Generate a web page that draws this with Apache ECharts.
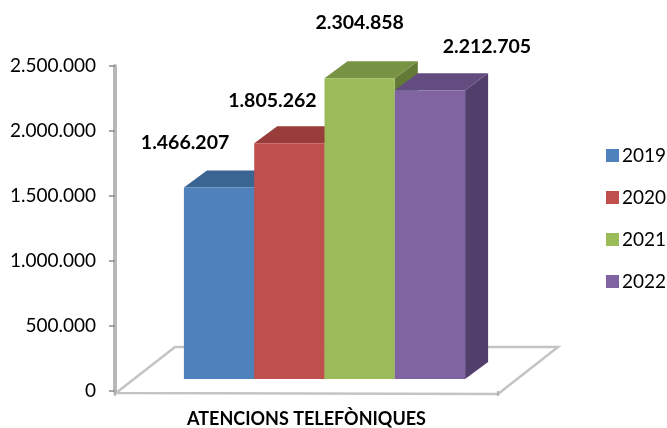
<!DOCTYPE html>
<html>
<head>
<meta charset="utf-8">
<style>html,body{margin:0;padding:0;background:#fff}#container{width:667px;height:428px}</style>
<script src="https://cdn.jsdelivr.net/npm/echarts@6/dist/echarts.min.js"></script>
</head>
<body>
<div id="container"></div>
<script>
"use strict";

const categories = ["ATENCIONS TELEFÒNIQUES"];
const years = ["2019", "2020", "2021", "2022"];
const values = [1466207, 1805262, 2304858, 2212705];
const yTicks = [0, 500000, 1000000, 1500000, 2000000, 2500000];

// colores: frontal, superior, lateral
const frontColors = ['#4f81bd', '#c0504d', '#9bbb59', '#8064a2'];
const topColors = ['#3a6593', '#983d3a', '#789343', '#624c80'];
const sideColors = ['#2f5380', '#7d3230', '#637a37', '#523e6b'];

// etiquetas colocadas a mano en el original (desplazamiento respecto a la cara frontal)
const labelDx = [-34, -17, 0, 57];
const labelDy = [-45, -43, -56, -44];

const barWidth = 70.3;
const depthX = 23;
const depthY = -17;
const shiftX = 18; // las barras van hacia el fondo del suelo
const shiftY = -13;

function dots(n) {
  return String(n).replace(/\B(?=(\d{3})+(?!\d))/g, '.');
}

function renderFloor(params) {
  const c = params.coordSys;
  const l = c.x, r = c.x + c.width, b = c.y + c.height;
  return {
    type: 'polygon',
    shape: { points: [[l + 1, b + 2], [r, b + 3], [r + 60, b - 44], [l + 60, b - 44]] },
    style: { fill: '#fff', stroke: '#c4c4c4', lineWidth: 2.5 },
  };
}

function makeRender(i) {
  return function (params, api) {
    const p = api.coord([0, api.value(1)]);
    const base = api.coord([0, 0]);
    const x0 = p[0] + shiftX + (i - 2) * barWidth;
    const x1 = x0 + barWidth;
    const yt = p[1] + shiftY;
    const yb = base[1] + shiftY + 1;
    return {
      type: 'group',
      children: [
        {
          type: 'polygon',
          shape: { points: [[x1, yt], [x1 + depthX, yt + depthY], [x1 + depthX, yb + depthY], [x1, yb]] },
          style: { fill: sideColors[i] },
        },
        {
          type: 'polygon',
          shape: { points: [[x0, yt], [x0 + depthX, yt + depthY], [x1 + depthX, yt + depthY], [x1, yt]] },
          style: { fill: topColors[i] },
        },
        {
          type: 'rect',
          shape: { x: x0, y: yt, width: barWidth, height: yb - yt },
          style: { fill: frontColors[i] },
        },
        {
          type: 'text',
          style: {
            x: (x0 + x1) / 2 + labelDx[i],
            y: yt + labelDy[i],
            text: dots(api.value(1)),
            align: 'center',
            verticalAlign: 'middle',
            fontFamily: 'Lato',
            fontWeight: 'bold',
            fontSize: 19.5,
            fill: '#000',
          },
        },
      ],
    };
  };
}

let myChart = echarts.init(document.getElementById('container'), null, { renderer: 'canvas' });

let series = [
  {
    name: 'floor',
    type: 'custom',
    silent: true,
    z: 1,
    renderItem: renderFloor,
    data: [[0, 0]],
  },
];
years.forEach(function (year, i) {
  series.push({
    name: year,
    type: 'custom',
    z: 3 + i,
    itemStyle: { color: frontColors[i] },
    renderItem: makeRender(i),
    encode: { x: 0, y: 1 },
    data: [[0, values[i]]],
  });
});

myChart.setOption({
  animation: false,
  grid: { left: 115, right: 169, top: 66, bottom: 37 },
  legend: {
    data: years,
    orient: 'vertical',
    left: 601,
    top: 141,
    itemWidth: 13,
    itemHeight: 13,
    itemGap: 23,
    icon: 'rect',
    textStyle: { fontFamily: 'Lato', fontSize: 19, color: '#000', padding: [0, 0, 0, -2] },
  },
  xAxis: {
    type: 'category',
    data: categories,
    z: 5,
    axisLine: { show: false },
    axisTick: { show: true, length: 5, lineStyle: { color: '#a8a8a8', width: 1.5 } },
    axisLabel: {
      fontFamily: 'Lato',
      fontWeight: 'bold',
      fontSize: 18,
      color: '#000',
      margin: 19,
    },
  },
  yAxis: {
    type: 'value',
    min: yTicks[0],
    max: yTicks[yTicks.length - 1],
    interval: yTicks[1] - yTicks[0],
    z: 5,
    splitLine: { show: false },
    axisLine: { show: true, lineStyle: { color: '#b8b8b8', width: 4 } },
    axisTick: { show: true, length: 6, lineStyle: { color: '#8c8c8c', width: 1.5 } },
    axisLabel: {
      fontFamily: 'Lato',
      fontSize: 19,
      color: '#000',
      margin: 19,
      padding: [2, 0, 0, 0],
      formatter: function (value) {
        return dots(value);
      },
    },
  },
  series: series,
});
</script>
</body>
</html>
